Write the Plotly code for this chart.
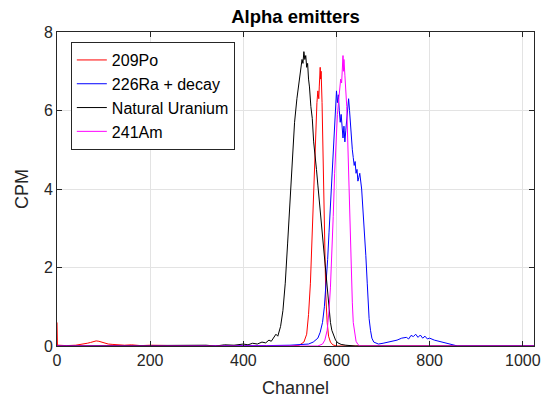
import plotly.graph_objects as go

# ---- data ----
po209_ch = [0, 1, 3, 20, 40, 55, 65, 72, 78, 84, 90, 96, 102, 110, 120, 130, 145, 160, 180, 200, 230, 260,
            300, 400, 500, 520, 530, 536, 540, 544, 547, 550, 553, 556, 558, 560, 562, 563, 565, 566, 567,
            569, 571, 573, 575, 577, 580, 583, 587, 592, 600, 1024]
po209_v = [0.6, 0.0, 0.02, 0.01, 0.02, 0.04, 0.07, 0.09, 0.11, 0.13, 0.12, 0.10, 0.08, 0.05, 0.04, 0.03, 0.02,
           0.03, 0.01, 0.02, 0.01, 0.0, 0.0, 0.0, 0.0, 0.02, 0.1, 0.3, 0.8, 1.6, 2.6, 3.6, 4.7, 5.6, 6.2, 6.5,
           6.3, 6.6, 7.1, 6.8, 7.0, 6.2, 5.0, 3.6, 2.3, 1.3, 0.6, 0.25, 0.1, 0.03, 0.0, 0.0]

ra226_ch = [0, 400, 450, 500, 540, 550, 560, 565, 570, 574, 578, 581, 584, 587, 590, 592, 594, 596, 598, 600,
            602, 604, 606, 608, 610, 612, 614, 616, 618, 620, 622, 624, 626, 628, 630, 632, 634, 636, 638, 640,
            642, 644, 646, 648, 650, 654, 657, 660, 663, 666, 668, 670, 673, 676, 680, 690, 700, 710, 720, 730,
            740, 750, 755, 760, 765, 770, 775, 780, 785, 790, 795, 800, 810, 820, 830, 840, 850, 860, 1024]
ra226_v = [0.0, 0.0, 0.01, 0.02, 0.05, 0.1, 0.2, 0.35, 0.6, 1.0, 1.6, 2.2, 2.9, 3.6, 4.3, 4.9, 5.4, 5.8, 6.3, 6.5,
           6.2, 6.4, 6.0, 5.7, 5.9, 5.5, 5.3, 5.6, 5.2, 5.5, 5.8, 6.1, 6.3, 6.0, 5.6, 5.2, 5.0, 4.8, 4.6, 4.7,
           4.4, 4.5, 4.2, 4.3, 4.4, 4.0, 3.5, 3.0, 2.3, 1.6, 1.1, 0.7, 0.4, 0.2, 0.1, 0.05, 0.07, 0.1, 0.12, 0.15,
           0.2, 0.22, 0.18, 0.27, 0.24, 0.3, 0.22, 0.28, 0.2, 0.25, 0.18, 0.2, 0.15, 0.12, 0.08, 0.05, 0.02, 0.0, 0.0]

nat_u_ch = [0, 300, 320, 340, 360, 380, 400, 410, 420, 430, 440, 448, 455, 460, 465, 470, 474, 478, 480, 485,
            490, 495, 500, 505, 510, 515, 520, 524, 526, 528, 530, 532, 534, 536, 538, 540, 542, 545, 548, 551,
            554, 557, 560, 563, 566, 569, 572, 575, 578, 581, 584, 587, 590, 594, 598, 603, 610, 620, 640, 1024]
nat_u_v = [0.0, 0.01, 0.02, 0.0, 0.03, 0.02, 0.05, 0.03, 0.07, 0.05, 0.1, 0.08, 0.15, 0.12, 0.2, 0.3, 0.25, 0.45,
           0.5, 0.9, 1.6, 2.6, 3.7, 4.8, 5.7, 6.3, 6.8, 7.1, 7.3, 7.2, 7.5, 7.3, 7.4, 7.1, 7.2, 6.8, 6.6, 6.1, 5.8,
           5.2, 4.9, 4.5, 4.1, 3.7, 3.2, 2.8, 2.4, 2.0, 1.6, 1.2, 0.9, 0.6, 0.4, 0.25, 0.15, 0.08, 0.04, 0.02, 0.0, 0.0]

am241_ch = [0, 560, 570, 575, 580, 584, 587, 590, 593, 596, 599, 602, 605, 607, 609, 611, 613, 614, 615, 616,
            618, 620, 622, 624, 626, 628, 630, 632, 634, 636, 639, 642, 646, 650, 1024]
am241_v = [0.0, 0.0, 0.05, 0.15, 0.4, 0.9, 1.5, 2.3, 3.3, 4.4, 5.3, 5.9, 6.3, 6.5, 6.8, 6.7, 7.1, 7.4, 7.0, 7.3,
           6.9, 6.6, 6.1, 5.3, 4.4, 3.4, 2.5, 1.7, 1.1, 0.6, 0.3, 0.12, 0.04, 0.0, 0.0]

series = [
    ("209Po", po209_ch, po209_v, "#ff0000"),
    ("226Ra + decay", ra226_ch, ra226_v, "#0000ff"),
    ("Natural Uranium", nat_u_ch, nat_u_v, "#000000"),
    ("241Am", am241_ch, am241_v, "#ff00ff"),
]

x_ticks = [0, 200, 400, 600, 800, 1000]
y_ticks = [0, 2, 4, 6, 8]

FONT = "Liberation Sans, Arial, sans-serif"
AX = "#262626"

fig = go.Figure()
for name, ch, v, col in series:
    fig.add_trace(go.Scatter(x=ch, y=v, mode="lines", name=name,
                             line=dict(color=col, width=1)))

axis_common = dict(showline=True, linecolor=AX, linewidth=1, mirror="ticks",
                   ticks="inside", ticklen=5, tickcolor=AX, showgrid=True,
                   gridcolor="#e3e3e3", gridwidth=1, zeroline=False, automargin=False,
                   tickfont=dict(family=FONT, size=16, color=AX))

fig.update_xaxes(range=[0, 1024], tickvals=x_ticks,
                 title=dict(text="Channel", font=dict(family=FONT, size=18, color=AX), standoff=13),
                 **axis_common)
fig.update_yaxes(range=[0, 8], tickvals=y_ticks,
                 title=dict(text="CPM", font=dict(family=FONT, size=18, color=AX), standoff=10),
                 **axis_common)

fig.update_layout(
    width=544, height=403,
    margin=dict(l=57, r=10, t=32, b=57, autoexpand=False),
    paper_bgcolor="white", plot_bgcolor="white",
    title=dict(text="<b>Alpha emitters</b>", x=0.5, xref="paper", xanchor="center",
               y=1 - 17 / 403, yref="container", yanchor="middle", automargin=False,
               font=dict(family=FONT, size=18.5, color="#000000")),
    legend=dict(x=0.029, y=0.968, xanchor="left", yanchor="top",
                bgcolor="white", bordercolor=AX, borderwidth=1,
                font=dict(family=FONT, size=16, color="#000000"),
                tracegroupgap=0),
    showlegend=True,
)

fig.write_html("out.html", config={"displayModeBar": False},
               post_script="document.body.style.margin='0';document.body.style.overflow='hidden';")
